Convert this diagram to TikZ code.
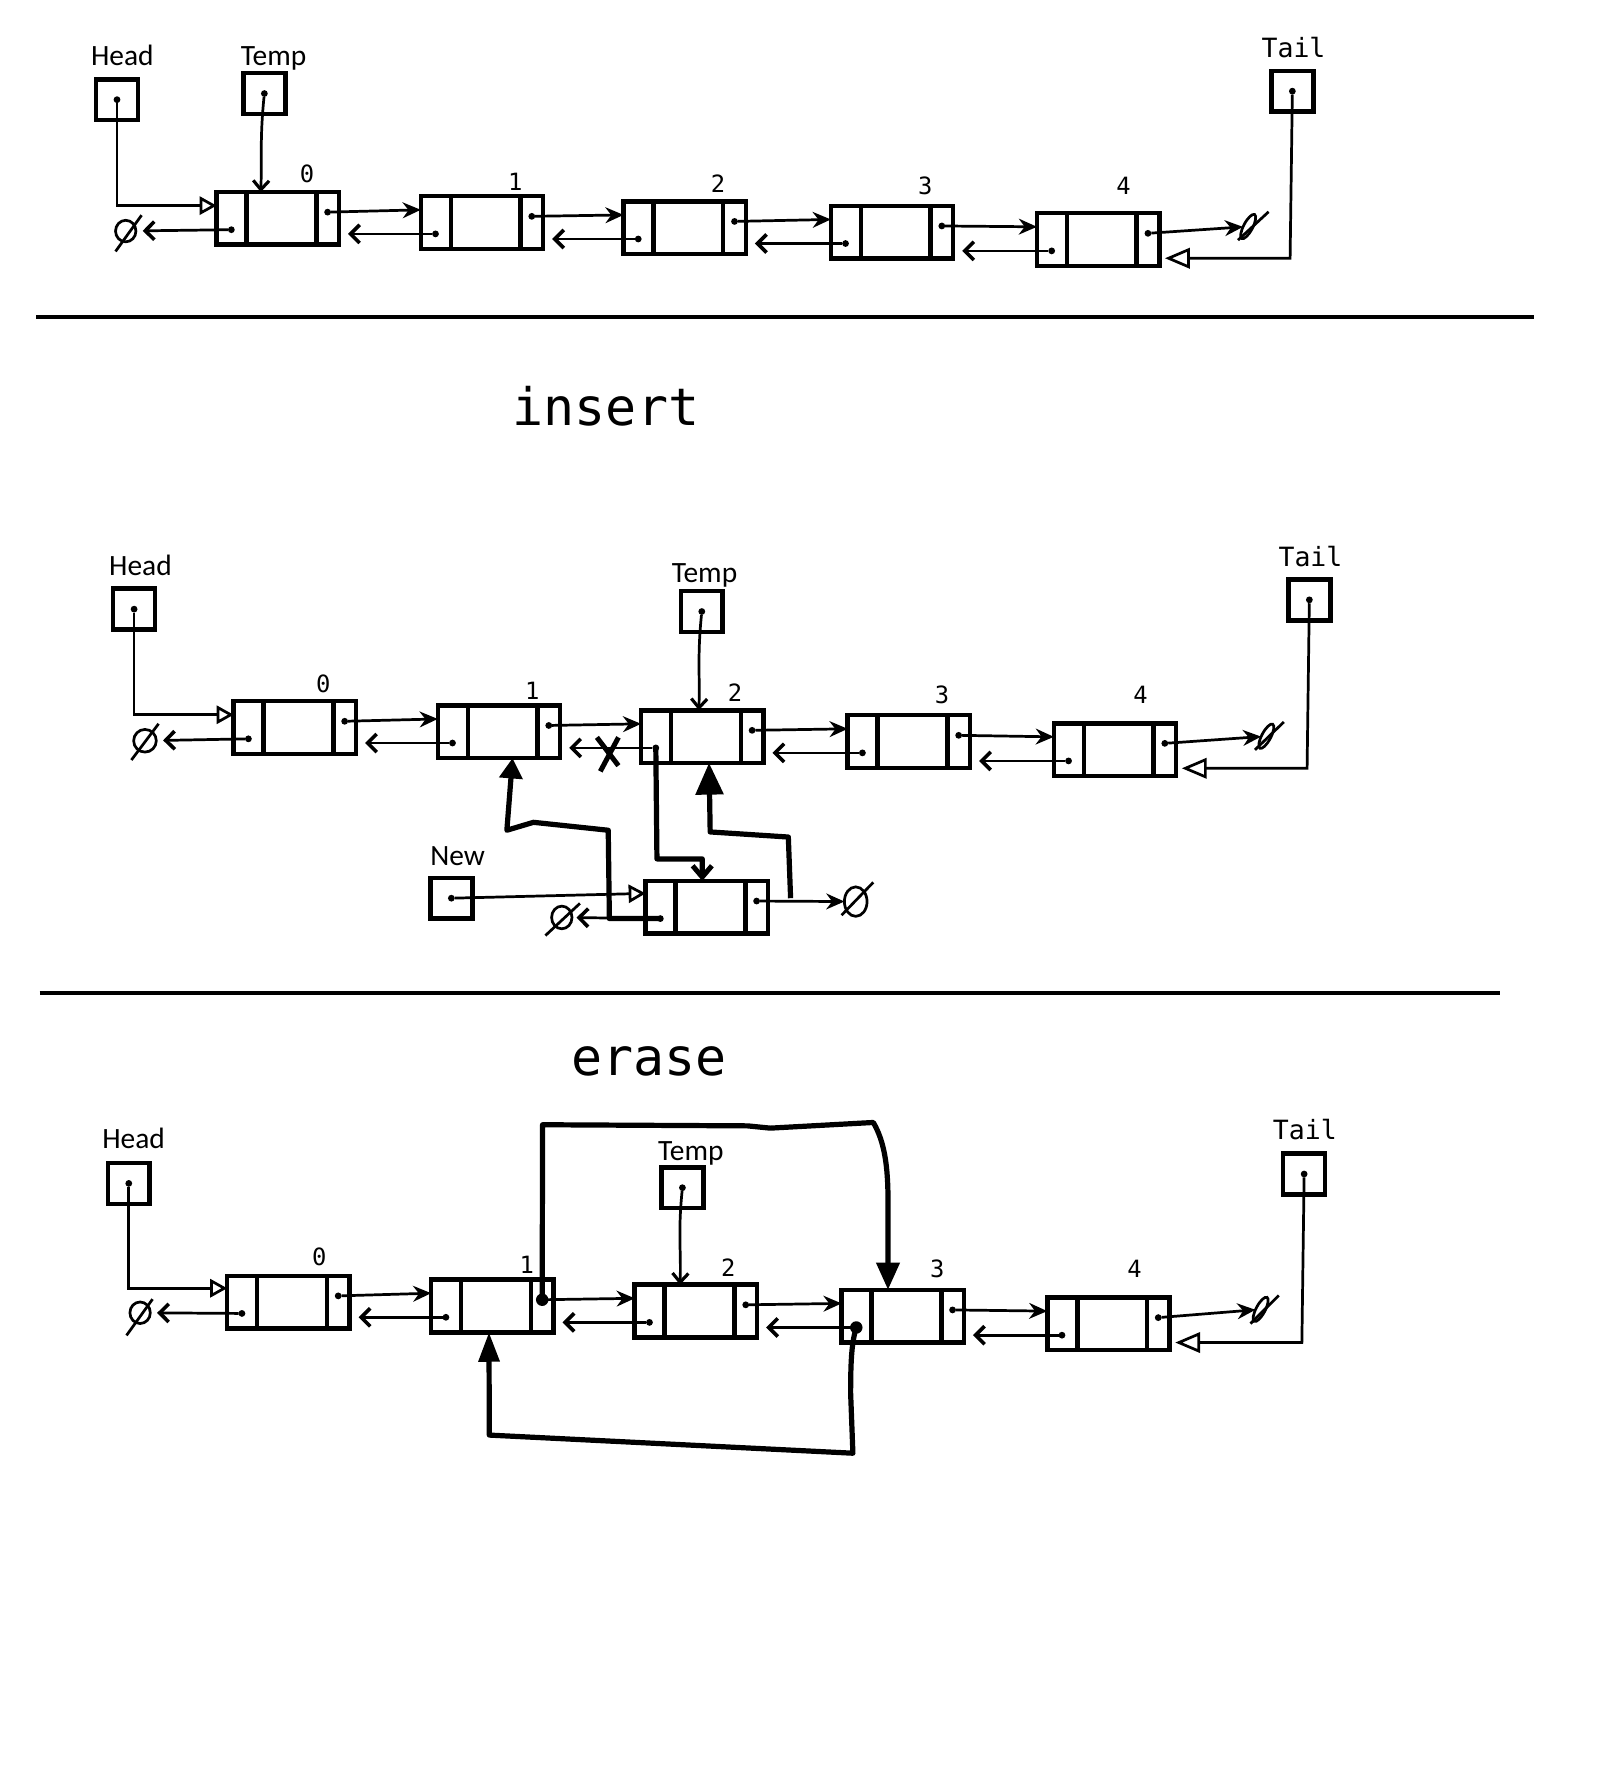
\documentclass[tikz,border=0pt]{standalone}
\usepackage{fontspec}
\setmainfont{Carlito}
\newfontfamily\monof{DejaVu Sans Mono}
\usetikzlibrary{arrows.meta,calc,shapes.geometric}
\tikzset{
  lbox/.style={draw, line width=2pt, minimum width=54pt, minimum height=23.25pt, inner sep=0pt, outer sep=0pt,
    path picture={\draw[line width=2pt]
      ([xshift=13.25pt]path picture bounding box.north west) -- ([xshift=13.25pt]path picture bounding box.south west)
      ([xshift=-10pt]path picture bounding box.north east) -- ([xshift=-10pt]path picture bounding box.south east);}},
  pbox/.style={draw, line width=2pt, minimum width=18.5pt, minimum height=18pt, inner sep=0pt, outer sep=0pt},
  dotn/.style={circle, fill, minimum size=3pt, inner sep=0pt, outer sep=0pt},
  bigdot/.style={circle, fill, minimum size=5.5pt, inner sep=0pt, outer sep=0pt},
  nul/.style={ellipse, draw, line width=1.2pt, inner sep=0pt, outer sep=0pt},
  lnk/.style={line width=1.2pt},
  nxt/.style={lnk, -{Stealth[length=8pt,width=7pt]}},
  prv/.style={lnk, -{Straight Barb[length=4pt,width=8pt,line width=1.6pt]}},
  hptr/.style={lnk, -{Triangle[open,length=7.5pt,width=8pt]}},
  tptr/.style={lnk, -{Triangle[open,length=11pt,width=9pt]}},
  tmpptr/.style={lnk, -{Straight Barb[length=4pt,width=7pt,line width=1.4pt]}},
  heavy/.style={line width=2.3pt, line join=round},
  sepline/.style={line width=1.7pt},
  lbl/.style={font=\fontsize{13}{15}\selectfont, inner sep=0pt, anchor=base},
  tlbl/.style={font=\monof\fontsize{11.7}{14}\selectfont, inner sep=0pt, anchor=base},
  num/.style={font=\monof\fontsize{10.5}{12}\selectfont, inner sep=0pt, anchor=base},
  ttl/.style={font=\monof\fontsize{22.8}{26}\selectfont, inner sep=0pt, anchor=base},
}
\newcommand\mkl[3]{\node[lbox] (#1) at (#2,#3) {};
  \node[dotn] (#1n) at ($(#1.center)+(44,-5.5)$) {};
  \node[dotn] (#1p) at ($(#1.center)+(-41,10)$) {};}
\newcommand\mkp[3]{\node[pbox] (#1) at (#2,#3) {}; \node[dotn] (#1d) at (#1.center) {};}
\newcommand\mknext[2]{\draw[nxt] (#1n) -- ($(#2.north west)+(0,12)$);}
\newcommand\mkprev[2]{\draw[prv] (#2p) -- ($(#2p.center -| #1.east)+(8,0)$);}
\begin{document}
\begin{tikzpicture}[x=0.5pt,y=-0.5pt]
\useasboundingbox (0,0) rectangle (1413,1568);
% ---------------- section 1
\mkp{H1}{103.3}{88} \mkp{T1}{233.4}{82.6} \mkp{L1}{1141}{80.5}
\node[lbl] (H1t) at (108,58) {Head};
\node[lbl] (T1t) at (241.6,58) {Temp};
\node[tlbl] (L1t) at (1142,51) {Tail};
\mkl{a0}{245.25}{192.8} \mkl{a1}{425.5}{196.5} \mkl{a2}{604.5}{201} \mkl{a3}{787.5}{205} \mkl{a4}{969.5}{211.5}
\node[num] (a0t) at (271,161) {0};
\node[num] (a1t) at (455,168) {1};
\node[num] (a2t) at (634,170) {2};
\node[num] (a3t) at (817,171.5) {3};
\node[num] (a4t) at (992,172) {4};
\mknext{a0}{a1} \mkprev{a0}{a1}
\mknext{a1}{a2} \mkprev{a1}{a2}
\mknext{a2}{a3} \mkprev{a2}{a3}
\mknext{a3}{a4} \mkprev{a3}{a4}
\node[nul, minimum width=9pt, minimum height=9.5pt] (z1a) at (111,204) {};
\draw[lnk] ($(z1a)+(-9,18)$) -- ($(z1a)+(14,-14)$);
\draw[prv, shorten >=3pt] (a0p) -- (z1a);
\node[nul, minimum width=4pt, minimum height=12pt, rotate=-28] (z1b) at (1102,200) {};
\draw[lnk] ($(z1b)+(-9,12)$) -- ($(z1b)+(18,-13)$);
\draw[nxt] (a4n) -- (z1b);
\draw[hptr] (H1d) |- ($(a0.north west)+(0,12)$);
\draw[tmpptr] (T1d) .. controls +(-4,40) and +(1,-30) .. ($(a0.north west)+(39,0)$);
\draw[tptr] (L1d) -- ($(L1d.center |- a4.center)+(-2,16.5)$) -- ($(a4.east)+(5,16.5)$);
\draw[sepline] (32,280) -- (1354,280);
% ---------------- section 2
\node[ttl] (ins) at (535,376) {insert};
\mkp{H2}{118.4}{537.8} \mkp{T2}{619.6}{539.9} \mkp{L2}{1156}{529.6} \mkp{N2}{398.5}{793}
\node[lbl] (H2t) at (124,508) {Head};
\node[lbl] (T2t) at (622,514) {Temp};
\node[tlbl] (L2t) at (1157,500) {Tail};
\node[lbl] (N2t) at (404,764) {New};
\mkl{b0}{260.3}{642.3} \mkl{b1}{440.5}{646} \mkl{b2}{620}{650.3} \mkl{b3}{802.4}{654.7} \mkl{b4}{984.4}{661.8}
\mkl{nw}{624}{801}
\node[num] (b0t) at (285.5,611) {0};
\node[num] (b1t) at (470,617.5) {1};
\node[num] (b2t) at (649,619.7) {2};
\node[num] (b3t) at (831.7,621) {3};
\node[num] (b4t) at (1007,621.5) {4};
\mknext{b0}{b1} \mkprev{b0}{b1}
\mknext{b1}{b2} \mkprev{b1}{b2}
\mknext{b2}{b3} \mkprev{b2}{b3}
\mknext{b3}{b4} \mkprev{b3}{b4}
\draw[line width=2.2pt] (527,651) -- (546,676) (546,651) -- (530,681);
\node[nul, minimum width=10pt, minimum height=10pt] (z2a) at (128,654) {};
\draw[lnk] ($(z2a)+(-12,17)$) -- ($(z2a)+(12,-15)$);
\draw[prv, shorten >=3pt] (b0p) -- (z2a);
\node[nul, minimum width=4pt, minimum height=12pt, rotate=-28] (z2b) at (1118,650) {};
\draw[lnk] ($(z2b)+(-10,12)$) -- ($(z2b)+(15.5,-12.6)$);
\draw[nxt] (b4n) -- (z2b);
\draw[hptr] (H2d) |- ($(b0.north west)+(0,12)$);
\draw[tmpptr] (T2d) .. controls +(-4,40) and +(1,-30) .. ($(b2.north west)+(51,0)$);
\draw[tptr] (L2d) -- ($(L2d.center |- b4.center)+(-2,16.5)$) -- ($(b4.east)+(5,16.5)$);
\draw[hptr] (N2d) -- ($(nw.north west)+(0,11)$);
\node[nul, minimum width=10pt, minimum height=13pt] (z2c) at (755.5,796) {};
\draw[lnk] ($(z2c)+(-12.5,12)$) -- ($(z2c)+(15.5,-17)$);
\draw[nxt] (nwn) -- (z2c);
\node[nul, minimum width=9pt, minimum height=10pt] (z2d) at (496,810) {};
\draw[lnk] ($(z2d)+(-14.5,16)$) -- ($(z2d)+(16,-12.4)$);
\draw[prv, shorten >=2pt] (nwp) -- (z2d);
\draw[heavy, -{Straight Barb[length=5pt,width=8.5pt,line width=2.2pt]}]
  (b2p.center) -- ($(b2p.center)+(1,98)$) -| ($(nw.north west)+(50,0)$);
\draw[heavy, -{Triangle[length=9pt,width=10pt]}]
  (nwp.center) -- ($(nwp.center)+(-45,0)$) -- (537,733) -- (471,726) -- (447.5,733) -- ($(b1.south)+(12,0)$);
\coordinate (nj) at (698,793);
\draw[heavy, -{Triangle[length=14pt,width=12pt]}]
  (nj) -- (696,739) -- (627,734.5) -- ($(b2.south)+(6,0)$);
\draw[sepline] (35,877) -- (1324,877);
% ---------------- section 3
\node[ttl] (era) at (573,949.5) {erase};
\mkp{H3}{113.7}{1044.8} \mkp{T3}{602.5}{1048.6} \mkp{L3}{1151.4}{1036.5}
\node[lbl] (H3t) at (118,1014) {Head};
\node[lbl] (T3t) at (610,1024.5) {Temp};
\node[tlbl] (L3t) at (1152,1006) {Tail};
\mkl{c0}{254.6}{1149.6} \mkl{c1}{434.7}{1153} \mkl{c2}{614.4}{1157.5} \mkl{c3}{797}{1162} \mkl{c4}{978.6}{1168.8}
\node[num] (c0t) at (281.8,1117) {0};
\node[num] (c1t) at (465,1124.5) {1};
\node[num] (c2t) at (643,1126.6) {2};
\node[num] (c3t) at (827.5,1127.5) {3};
\node[num] (c4t) at (1001.6,1127.5) {4};
\node[bigdot] (c1nb) at (c1n) {};
\node[bigdot] (c3pb) at (c3p) {};
\mknext{c0}{c1} \mkprev{c0}{c1}
\mknext{c1}{c2} \mkprev{c1}{c2}
\mknext{c2}{c3} \mkprev{c2}{c3}
\mknext{c3}{c4} \mkprev{c3}{c4}
\node[nul, minimum width=9pt, minimum height=9.5pt] (z3a) at (123.7,1159) {};
\draw[lnk] ($(z3a)+(-12,20)$) -- ($(z3a)+(11,-12)$);
\draw[prv, shorten >=3pt] (c0p) -- (z3a);
\node[nul, minimum width=4pt, minimum height=12pt, rotate=-28] (z3b) at (1113,1156) {};
\draw[lnk] ($(z3b)+(-9,12.6)$) -- ($(z3b)+(16,-12.3)$);
\draw[nxt] (c4n) -- (z3b);
\draw[hptr] (H3d) |- ($(c0.north west)+(0,11)$);
\draw[tmpptr] (T3d) .. controls +(-4,40) and +(1,-30) .. ($(c2.north west)+(40,0)$);
\draw[tptr] (L3d) -- ($(L3d.center |- c4.center)+(-2,16.5)$) -- ($(c4.east)+(5,16.5)$);
\draw[heavy, -{Triangle[length=12pt,width=10pt]}]
  (c1n.center) -- (479,993) -- (660,994) -- (680,996) -- (771,991)
  .. controls (781,1008) and (784,1030) .. (784,1060) -- ($(c3.north west)+(41,0)$);
\draw[heavy, -{Triangle[length=13pt,width=9pt]}]
  (c3p.center) .. controls (752,1185) and (751,1200) .. (751,1230) -- (753,1283) -- (432,1267) -- ($(c1.south)+(-3,0)$);
\end{tikzpicture}
\end{document}
